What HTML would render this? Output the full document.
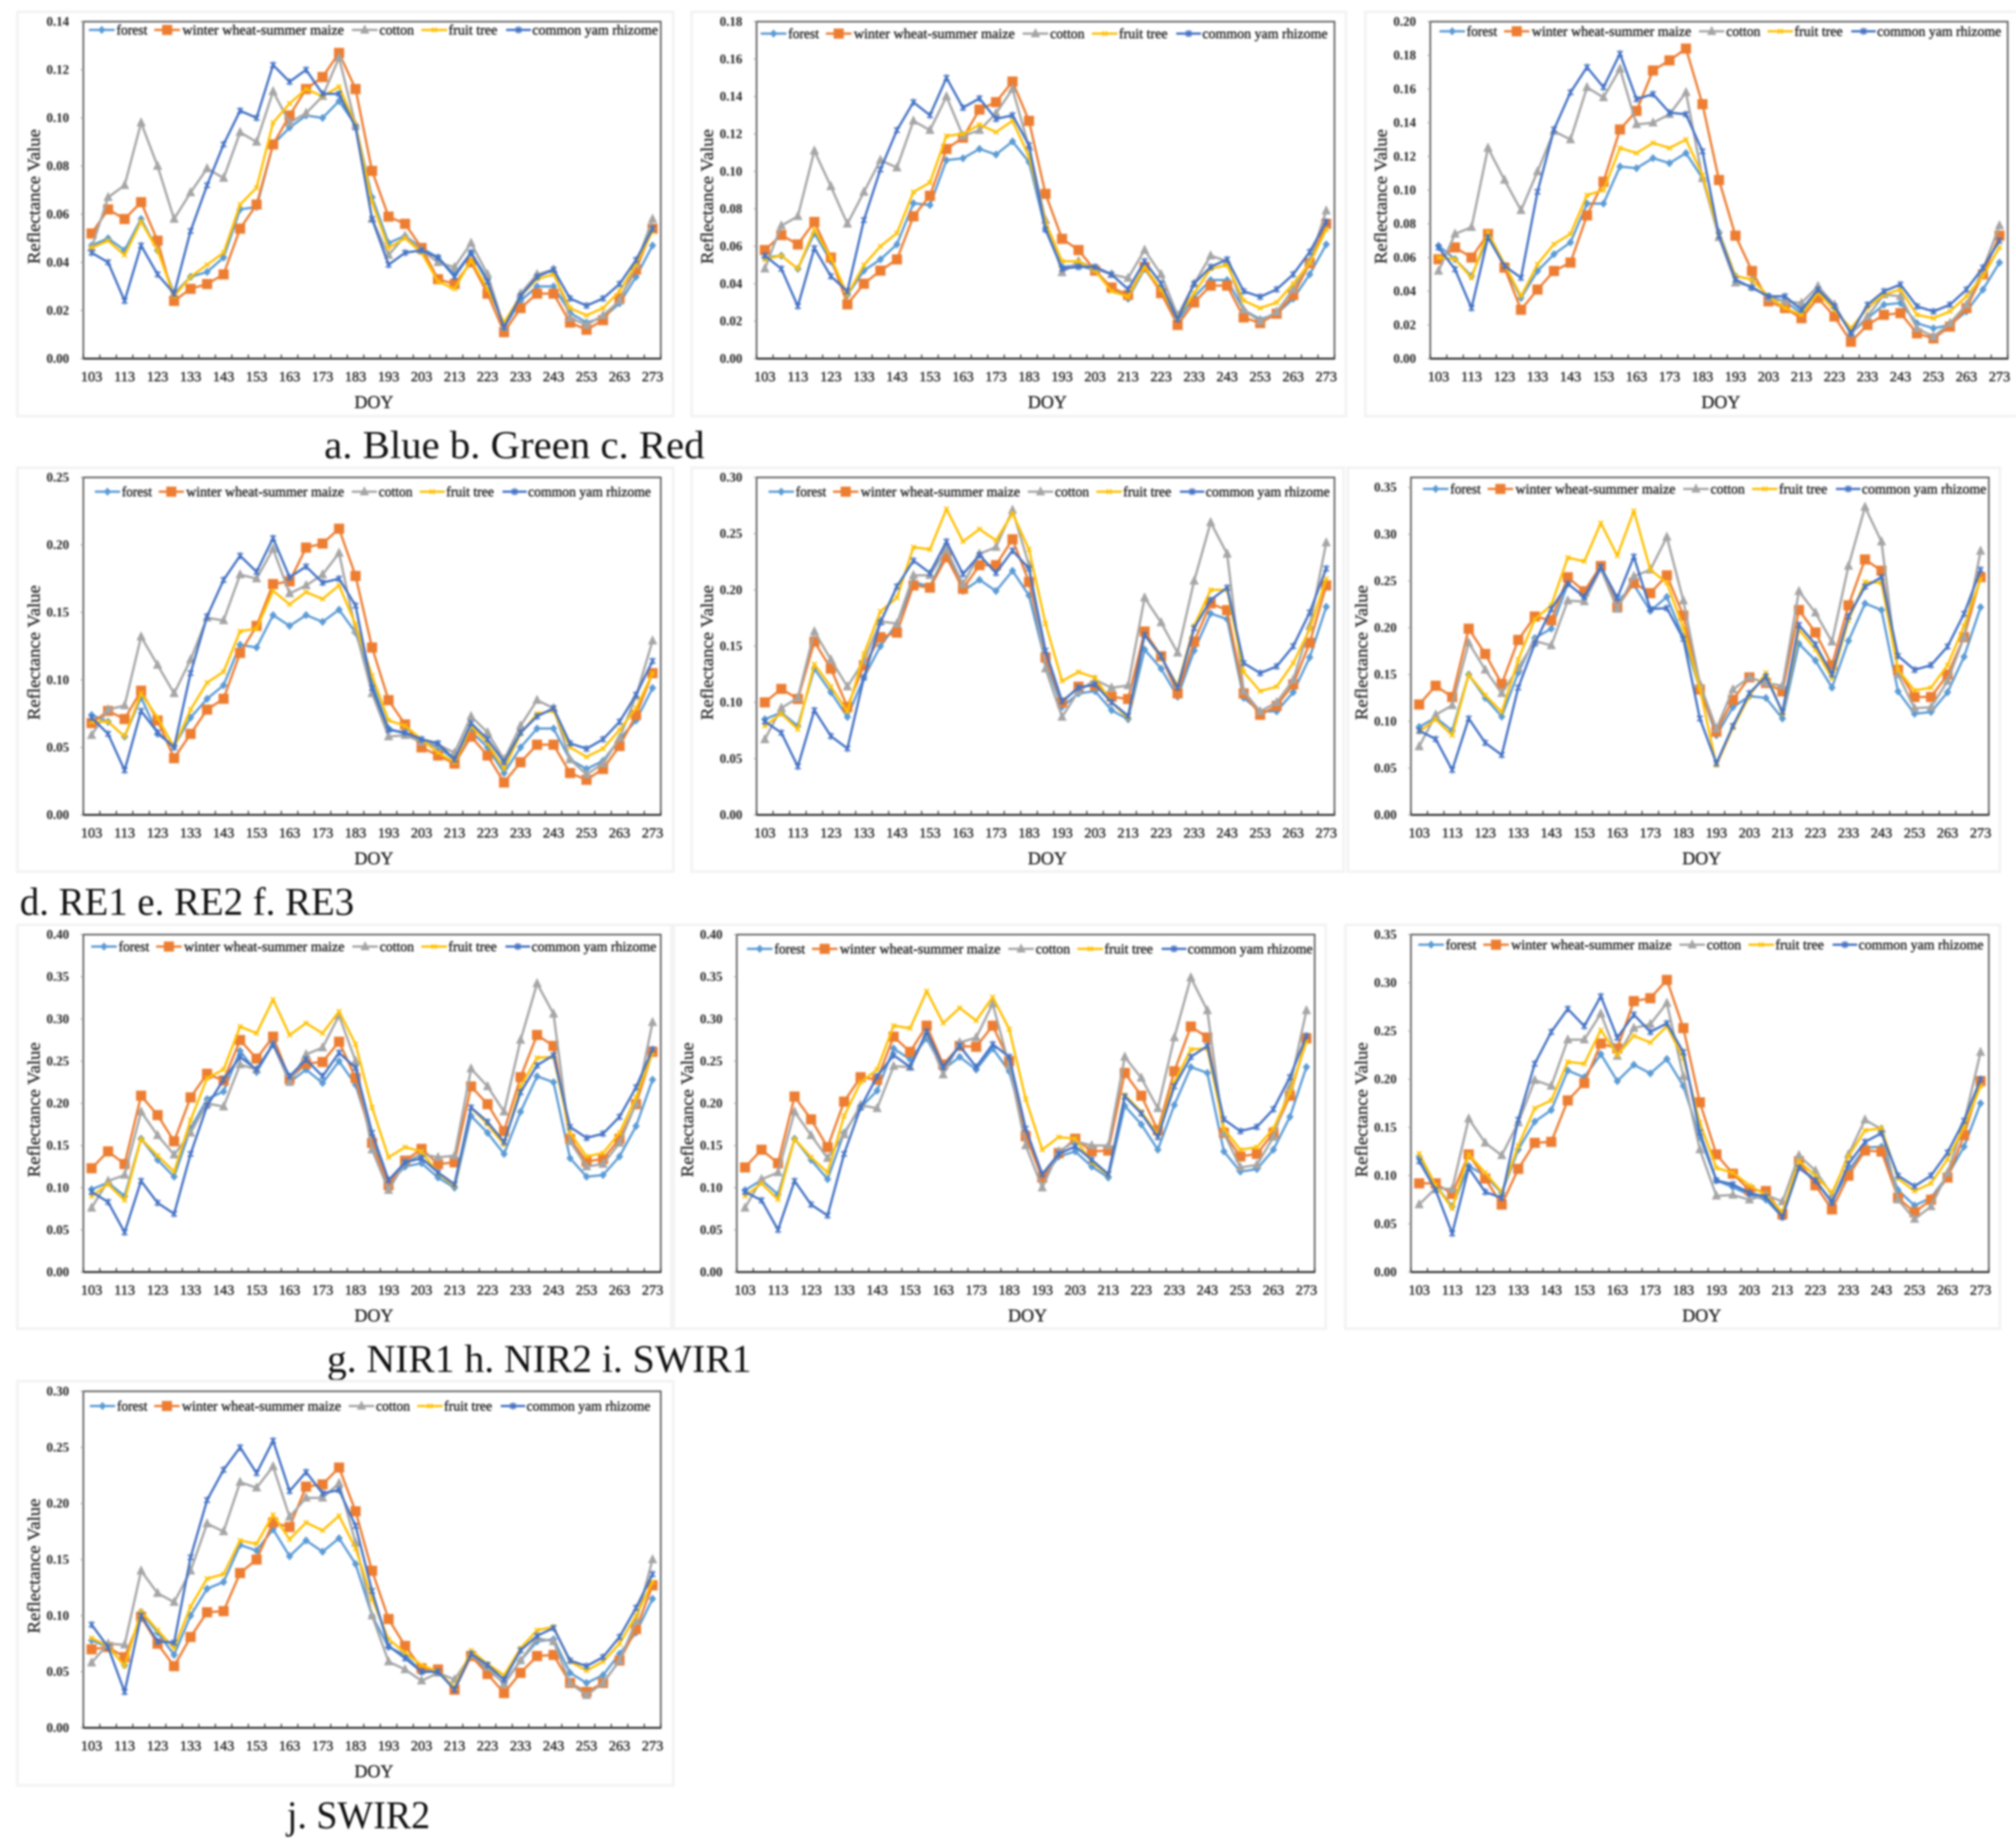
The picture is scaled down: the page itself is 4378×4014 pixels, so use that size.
<!DOCTYPE html>
<html lang="en">
<head>
<meta charset="utf-8">
<title>Reflectance Value by DOY for spectral bands</title>
<style>
html,body{margin:0;padding:0;background:#fff;width:4378px;height:4014px;overflow:hidden}
svg{display:block;filter:blur(2px)}
text{font-family:"Liberation Serif",serif;fill:#1c1c1c}
.caption{font-size:86px;fill:#111}
.tick{font-size:28px;font-weight:bold;fill:#222}
.xtick{font-size:31px;fill:#222;stroke:#222;stroke-width:.8px}
.ytitle{font-size:38px;fill:#333;stroke:#333;stroke-width:.8px}
.xtitle{font-size:39px;fill:#222;stroke:#222;stroke-width:.8px}
.legend{font-size:31px;fill:#222;stroke:#222;stroke-width:.8px}
</style>
</head>
<body>
<svg id="chart-sheet" xmlns="http://www.w3.org/2000/svg" width="4378" height="4014" viewBox="0 0 4378 4014">
<rect x="0" y="0" width="4378" height="4014" fill="#fff"/>
<rect x="1368" y="24" width="13" height="4" fill="#555"/>
<rect x="1416" y="24" width="13" height="4" fill="#555"/>
<rect x="2417" y="24" width="9" height="4" fill="#555"/>
<text class="caption" x="704" y="995" textLength="826" lengthAdjust="spacingAndGlyphs">a. Blue b. Green c. Red</text>
<text class="caption" x="43" y="1987" textLength="726" lengthAdjust="spacingAndGlyphs">d. RE1 e. RE2 f. RE3</text>
<text class="caption" x="710" y="2980" textLength="922" lengthAdjust="spacingAndGlyphs">g. NIR1 h. NIR2 i. SWIR1</text>
<text class="caption" x="623" y="3971" textLength="311" lengthAdjust="spacingAndGlyphs">j. SWIR2</text>
</svg>
<script>
// Categories
const doy = [103,108,113,118,123, 128,133,138,143,148, 153,158,163,168,173, 178,183,188,193,198, 203,208,213,218,223, 228,233,238,243,248, 253,258,263,268,273];
const seriesNames = ['forest','winter wheat-summer maize','cotton','fruit tree','common yam rhizome'];

// a. Blue
const blueForest = [.047,.050,.045,.058,.045, .027,.034,.036,.042,.062, .063,.089,.096,.101,.100, .107,.097,.067,.048,.051, .046,.042,.035,.044,.033, .013,.024,.030,.030,.019, .015,.017,.023,.034,.047];
const blueWheat = [.052,.062,.058,.065,.049, .024,.029,.031,.035,.054, .064,.089,.101,.112,.117, .127,.112,.078,.059,.056, .046,.033,.031,.040,.027, .011,.021,.027,.027,.015, .012,.016,.025,.037,.054];
const blueCotton = [.046,.067,.072,.098,.080, .058,.069,.079,.075,.094, .090,.111,.098,.102,.109, .125,.097,.058,.043,.051, .045,.040,.038,.048,.035, .013,.027,.035,.037,.017, .014,.018,.024,.039,.058];
const blueFruit = [.046,.049,.043,.057,.045, .026,.034,.039,.044,.064, .071,.098,.106,.112,.109, .113,.097,.065,.046,.050, .044,.032,.029,.041,.029, .015,.026,.033,.035,.021, .018,.021,.028,.039,.053];
const blueYam = [.044,.040,.024,.047,.035, .027,.053,.072,.089,.103, .100,.122,.115,.120,.110, .110,.096,.058,.039,.044, .045,.042,.034,.044,.032, .013,.026,.034,.037,.025, .022,.025,.031,.041,.054];

// b. Green
const greenForest = [.054,.055,.048,.067,.052, .034,.047,.053,.061,.083, .082,.106,.107,.112,.109, .116,.105,.069,.049,.050, .047,.038,.032,.048,.036, .020,.033,.042,.042,.026, .021,.024,.032,.045,.061];
const greenWheat = [.058,.066,.061,.073,.054, .029,.040,.047,.053,.076, .087,.112,.118,.133,.137, .148,.127,.088,.064,.058, .047,.038,.034,.049,.035, .018,.030,.039,.039,.022, .019,.024,.034,.051,.072];
const greenCotton = [.048,.071,.076,.111,.092, .072,.089,.106,.102,.127, .122,.140,.119,.122,.131, .144,.113,.074,.046,.052, .048,.045,.043,.058,.045, .023,.040,.055,.052,.026, .020,.025,.037,.052,.079];
const greenFruit = [.053,.055,.048,.069,.054, .034,.050,.060,.067,.089, .094,.119,.120,.125,.121, .127,.108,.073,.052,.052, .047,.036,.033,.049,.037, .022,.035,.048,.050,.031, .027,.030,.040,.051,.069];
const greenYam = [.055,.048,.028,.059,.044, .036,.074,.101,.122,.137, .130,.150,.134,.139,.128, .130,.114,.069,.048,.049, .049,.045,.037,.052,.040, .021,.040,.049,.053,.036, .033,.037,.045,.057,.073];

// c. Red
const redForest = [.067,.059,.049,.072,.055, .036,.052,.062,.069,.092, .092,.114,.113,.119,.116, .122,.107,.075,.049,.047, .037,.034,.027,.040,.031, .015,.024,.032,.033,.021, .018,.020,.028,.041,.057];
const redWheat = [.059,.066,.060,.074,.054, .029,.041,.052,.057,.085, .105,.136,.147,.171,.177, .184,.151,.106,.073,.052, .034,.030,.024,.036,.025, .010,.020,.026,.027,.015, .012,.019,.030,.050,.073];
const redCotton = [.052,.074,.078,.125,.106, .088,.111,.135,.130,.161, .155,.172,.139,.140,.145, .158,.107,.072,.045,.043, .036,.034,.033,.043,.032, .015,.025,.038,.037,.018, .013,.021,.032,.053,.079];
const redFruit = [.060,.059,.048,.075,.056, .037,.056,.068,.074,.097, .100,.125,.122,.128,.125, .130,.109,.074,.049,.047, .037,.030,.026,.039,.029, .018,.030,.038,.041,.026, .024,.028,.037,.049,.066];
const redYam = [.066,.053,.030,.072,.055, .048,.099,.136,.158,.173, .161,.181,.154,.157,.146, .145,.123,.073,.047,.042, .037,.037,.029,.041,.031, .015,.032,.040,.044,.031, .028,.032,.041,.054,.070];

// d. RE1
const re1Forest = [.074,.069,.058,.087,.060, .051,.072,.086,.096,.126, .124,.148,.140,.148,.143, .152,.135,.098,.064,.060, .055,.050,.041,.062,.050, .031,.050,.064,.064,.041, .034,.040,.056,.070,.094];
const re1Wheat = [.068,.077,.071,.092,.070, .042,.060,.078,.086,.120, .140,.171,.173,.198,.201, .212,.177,.124,.085,.067, .050,.044,.038,.058,.044, .024,.039,.052,.052,.031, .026,.034,.051,.074,.105];
const re1Cotton = [.059,.078,.081,.132,.111, .090,.115,.146,.144,.178, .175,.197,.164,.170,.178, .194,.137,.090,.058,.059, .054,.052,.046,.073,.061, .041,.066,.085,.079,.041, .030,.038,.057,.088,.129];
const re1Fruit = [.069,.069,.058,.090,.072, .050,.078,.098,.106,.136, .138,.166,.156,.165,.160, .170,.141,.103,.070,.066, .056,.046,.039,.066,.053, .034,.060,.075,.077,.050, .043,.049,.063,.079,.105];
const re1Yam = [.072,.060,.033,.077,.061, .050,.105,.147,.174,.192, .180,.205,.176,.184,.172, .175,.155,.094,.063,.061, .056,.053,.041,.068,.056, .039,.061,.073,.079,.053, .049,.056,.069,.089,.114];

// e. RE2
const re2Forest = [.085,.091,.079,.130,.109, .087,.122,.150,.170,.207, .203,.233,.199,.209,.199, .217,.195,.136,.096,.108, .110,.093,.085,.147,.130, .105,.146,.179,.174,.104, .092,.092,.109,.140,.185];
const re2Wheat = [.100,.112,.103,.154,.130, .096,.133,.158,.162,.204, .202,.229,.201,.222,.222, .245,.207,.140,.100,.114, .115,.105,.103,.163,.141, .108,.154,.188,.182,.108, .089,.097,.116,.153,.204];
const re2Cotton = [.067,.095,.104,.163,.138, .114,.137,.172,.170,.213, .213,.236,.205,.232,.238, .271,.222,.130,.087,.110, .120,.113,.115,.193,.171, .144,.208,.260,.232,.110, .092,.100,.120,.168,.242];
const re2Fruit = [.079,.090,.076,.134,.114, .092,.143,.181,.193,.238, .236,.272,.243,.254,.244, .268,.236,.170,.119,.127, .122,.100,.086,.160,.140, .115,.168,.200,.200,.127, .110,.114,.135,.165,.210];
const re2Yam = [.083,.073,.043,.093,.070, .059,.122,.171,.203,.226, .215,.243,.214,.231,.215, .235,.219,.146,.101,.113, .116,.100,.088,.160,.141, .113,.166,.191,.202,.135, .126,.132,.150,.180,.219];

// f. RE3
const re3Forest = [.094,.104,.090,.150,.125, .105,.152,.189,.199,.247, .233,.265,.228,.246,.218, .233,.190,.135,.085,.115, .127,.125,.103,.183,.165, .136,.186,.226,.219,.132, .108,.110,.131,.169,.222];
const re3Wheat = [.118,.138,.126,.199,.172, .140,.187,.212,.208,.254, .239,.266,.222,.248,.237, .256,.213,.134,.089,.123, .147,.141,.132,.219,.195, .160,.224,.273,.261,.155, .126,.126,.150,.190,.254];
const re3Cotton = [.073,.107,.117,.184,.155, .130,.157,.186,.181,.229, .228,.263,.220,.255,.262, .297,.229,.140,.092,.134, .147,.141,.138,.239,.216, .185,.266,.329,.292,.150, .114,.115,.143,.190,.282];
const re3Fruit = [.089,.102,.085,.150,.128, .110,.166,.209,.224,.275, .271,.312,.277,.325,.262, .248,.200,.135,.053,.093, .127,.152,.108,.198,.177, .146,.208,.249,.248,.155, .133,.136,.160,.202,.252];
const re3Yam = [.090,.081,.048,.103,.077, .064,.136,.183,.220,.247, .233,.265,.232,.276,.220, .221,.188,.103,.055,.095, .130,.148,.110,.203,.182, .150,.212,.244,.254,.170, .155,.160,.180,.215,.262];

// g. NIR1
const nir1Forest = [.098,.106,.090,.158,.133, .113,.170,.205,.214,.262, .237,.270,.225,.240,.224, .250,.222,.160,.105,.125, .129,.112,.100,.185,.165, .140,.190,.232,.225,.135, .113,.115,.137,.173,.228];
const nir1Wheat = [.123,.143,.128,.209,.186, .155,.207,.235,.227,.275, .253,.279,.229,.247,.249, .273,.230,.153,.103,.132, .146,.128,.130,.220,.199, .167,.231,.281,.268,.158, .131,.134,.158,.199,.261];
const nir1Cotton = [.076,.108,.115,.190,.162, .139,.165,.200,.196,.246, .240,.270,.225,.258,.266, .304,.250,.145,.097,.130, .140,.136,.138,.241,.220, .190,.275,.342,.306,.155, .125,.128,.153,.200,.296];
const nir1Fruit = [.090,.104,.085,.158,.138, .119,.180,.230,.240,.291, .283,.323,.281,.295,.283, .309,.270,.195,.136,.148, .143,.117,.102,.195,.175, .151,.220,.254,.255,.165, .137,.141,.165,.207,.260];
const nir1Yam = [.095,.083,.047,.108,.082, .069,.140,.197,.228,.255, .240,.270,.232,.252,.232, .260,.242,.165,.109,.130, .135,.118,.104,.195,.178, .154,.213,.245,.257,.172, .159,.164,.184,.219,.264];

// h. NIR2
const nir2Forest = [.097,.109,.092,.158,.133, .110,.165,.195,.215,.265, .252,.277,.240,.255,.240, .265,.238,.165,.110,.137, .143,.125,.112,.197,.175, .145,.198,.243,.236,.143, .119,.122,.145,.184,.243];
const nir2Wheat = [.124,.145,.129,.208,.181, .148,.202,.231,.228,.279, .261,.292,.246,.268,.267, .292,.250,.161,.112,.141, .158,.143,.144,.236,.209, .168,.238,.291,.278,.165, .137,.140,.165,.209,.277];
const nir2Cotton = [.076,.110,.118,.190,.162, .135,.163,.198,.194,.244, .243,.283,.234,.272,.278, .318,.245,.150,.100,.143, .155,.150,.150,.255,.230, .194,.278,.349,.310,.165, .124,.127,.160,.220,.310];
const nir2Fruit = [.090,.105,.086,.158,.136, .118,.185,.225,.240,.292, .289,.333,.295,.313,.298, .326,.288,.205,.145,.160, .158,.130,.115,.210,.190, .163,.225,.264,.265,.170, .145,.148,.170,.213,.273];
const nir2Yam = [.095,.085,.050,.108,.080, .067,.140,.195,.232,.257, .243,.285,.243,.268,.243, .270,.255,.170,.116,.140, .149,.133,.116,.208,.188, .160,.220,.255,.268,.181, .167,.172,.193,.231,.280];

// i. SWIR1
const swir1Forest = [.120,.090,.068,.110,.100, .082,.127,.156,.168,.209, .202,.226,.198,.215,.206, .221,.193,.140,.095,.088, .080,.075,.057,.110,.095, .073,.105,.129,.130,.085, .069,.077,.100,.130,.175];
const swir1Wheat = [.092,.092,.081,.122,.097, .070,.107,.134,.135,.178, .196,.237,.232,.281,.284, .303,.253,.176,.122,.102, .085,.084,.060,.115,.090, .065,.100,.126,.125,.077, .062,.075,.098,.142,.198];
const swir1Cotton = [.070,.087,.086,.159,.134, .121,.155,.199,.193,.241, .241,.268,.224,.253,.257, .279,.203,.127,.079,.080, .075,.080,.073,.121,.105, .080,.122,.158,.148,.075, .055,.068,.103,.155,.228];
const swir1Fruit = [.123,.090,.066,.122,.103, .083,.131,.170,.178,.218, .216,.251,.225,.245,.238, .255,.222,.155,.108,.103, .090,.080,.062,.115,.100, .082,.120,.147,.149,.097, .084,.092,.117,.150,.193];
const swir1Yam = [.115,.085,.040,.108,.083, .077,.158,.216,.249,.273, .255,.286,.243,.267,.249, .258,.228,.145,.095,.091, .082,.078,.057,.108,.095, .072,.112,.135,.144,.100, .089,.100,.124,.157,.200];

// j. SWIR2
const swir2Forest = [.078,.072,.056,.103,.085, .065,.100,.124,.130,.163, .158,.177,.153,.167,.157, .169,.146,.100,.072,.065, .050,.051,.034,.065,.052, .040,.060,.077,.079,.049, .040,.047,.066,.085,.115];
const swir2Wheat = [.070,.072,.063,.099,.075, .055,.081,.103,.104,.138, .150,.183,.179,.215,.217, .232,.193,.140,.097,.073, .053,.052,.034,.064,.048, .031,.049,.064,.065,.040, .032,.040,.060,.088,.127];
const swir2Cotton = [.058,.075,.074,.140,.120, .112,.140,.182,.175,.219, .214,.233,.188,.205,.205, .218,.165,.100,.059,.052, .042,.049,.043,.065,.054, .039,.060,.080,.077,.040, .029,.040,.060,.095,.150];
const swir2Fruit = [.080,.073,.055,.104,.087, .071,.108,.133,.137,.167, .164,.190,.168,.183,.176, .189,.160,.115,.079,.067, .056,.050,.036,.069,.057, .047,.071,.087,.090,.059, .051,.059,.075,.100,.130];
const swir2Yam = [.092,.072,.032,.100,.077, .076,.152,.203,.230,.250, .227,.256,.211,.228,.209, .212,.180,.122,.073,.062, .050,.050,.034,.066,.056, .043,.069,.082,.089,.060, .055,.063,.081,.107,.137];

// Axis ranges
const yTickLabelsA = ['0.00','0.02','0.04','0.06','0.08','0.10','0.12','0.14'];
const yTickLabelsB = ['0.00','0.02','0.04','0.06','0.08','0.10','0.12','0.14','0.16','0.18'];
const yTickLabelsC = ['0.00','0.02','0.04','0.06','0.08','0.10','0.12','0.14','0.16','0.18','0.20'];
const yTickLabelsD = ['0.00','0.05','0.10','0.15','0.20','0.25'];
const yTickLabelsE = ['0.00','0.05','0.10','0.15','0.20','0.25','0.30'];
const yTickLabelsF = ['0.00','0.05','0.10','0.15','0.20','0.25','0.30','0.35'];
const yTickLabelsG = ['0.00','0.05','0.10','0.15','0.20','0.25','0.30','0.35','0.40'];

const SVG_NS = 'http://www.w3.org/2000/svg';
const sheet = document.getElementById('chart-sheet');
const colors = ['#5B9BD5','#ED7D31','#A5A5A5','#FFC000','#4472C4'];

function make(tag, attrs, parent) {
  const el = document.createElementNS(SVG_NS, tag);
  for (const k in attrs) el.setAttribute(k, attrs[k]);
  parent.appendChild(el);
  return el;
}

function drawMarker(kind, cx, cy, parent) {
  const c = colors[kind];
  let m;
  if (kind === 0) {
    m = make('polygon', {points: [cx,cy-9,cx+8,cy,cx,cy+9,cx-8,cy].join(','), fill: c}, parent);
  } else if (kind === 1) {
    m = make('rect', {x: cx-11, y: cy-11, width: 22, height: 22, fill: c}, parent);
  } else if (kind === 2) {
    m = make('polygon', {points: [cx,cy-12,cx+10,cy+8,cx-10,cy+8].join(','), fill: c}, parent);
  } else if (kind === 3) {
    m = make('path', {d: 'M'+(cx-5)+' '+(cy-5)+'L'+(cx+5)+' '+(cy+5)+'M'+(cx+5)+' '+(cy-5)+'L'+(cx-5)+' '+(cy+5), stroke: c, 'stroke-width': 3, fill: 'none'}, parent);
  } else {
    m = make('path', {d: 'M'+(cx-6)+' '+(cy-6)+'L'+(cx+6)+' '+(cy+6)+'M'+(cx+6)+' '+(cy-6)+'L'+(cx-6)+' '+(cy+6)+'M'+cx+' '+(cy-8)+'V'+(cy+8), stroke: c, 'stroke-width': 3, fill: 'none'}, parent);
  }
  
  
}

const legendLineStart = [0,142,571,722,906];
const legendLineEnd = [56,198,627,778,960];
const legendTextStart = [60,203,631,781,963];
const legendTextWidth = [67,351,75,106,273];

function drawPanel(p) {
  const g = make('g', {}, sheet);
  
  

  const frame = make('rect', {x: p.fx0, y: p.fy0, width: p.fx1-p.fx0, height: p.fy1-p.fy0, fill: '#fff', stroke: '#f3f3f3', 'stroke-width': 6}, g);
  
  

  const plot = make('rect', {x: p.x0, y: p.y0, width: p.x1-p.x0, height: p.y1-p.y0, fill: '#fff', stroke: '#5a5a5a', 'stroke-width': 3.5}, g);
  
  

  const band = (p.x1 - p.x0) / doy.length;
  const xScale = i => p.x0 + band * (i + 0.5);
  const yScale = v => p.y1 - v / p.yMax * (p.y1 - p.y0);

  const xAxis = make('line', {x1: p.x0, x2: p.x1, y1: p.y1, y2: p.y1, stroke: '#222', 'stroke-width': 4}, g);
  
  

  for (let i = 0; i <= doy.length; i++) {
    const tx = p.x0 + band * i;
    const t = make('line', {x1: tx, x2: tx, y1: p.y1 - 9, y2: p.y1 + 2, stroke: '#333', 'stroke-width': 2.5}, g);
    
    
  }

  doy.forEach((d, i) => {
    if (i % 2) return;
    const lab = make('text', {x: xScale(i), y: p.y1 + 49, 'text-anchor': 'middle', class: 'xtick'}, g);
    lab.textContent = d;
    
    
  });

  p.yTicks.forEach(label => {
    const ty = yScale(parseFloat(label));
    const t = make('line', {x1: p.x0 - 6, x2: p.x0, y1: ty, y2: ty, stroke: '#999', 'stroke-width': 2}, g);
    
    
    const lab = make('text', {x: p.x0 - 31, y: ty + 9, 'text-anchor': 'end', class: 'tick'}, g);
    lab.textContent = label;
    
    
  });

  const yCenter = (p.y0 + p.y1) / 2 + 14;
  const yt = make('text', {x: 0, y: 0, transform: 'translate(' + (p.x0 - 95) + ',' + yCenter + ') rotate(-90)', 'text-anchor': 'middle', class: 'ytitle', textLength: 293, lengthAdjust: 'spacingAndGlyphs'}, g);
  yt.textContent = 'Reflectance Value';
  
  

  const xt = make('text', {x: (p.x0 + p.x1) / 2 + 4, y: p.y1 + 107, 'text-anchor': 'middle', class: 'xtitle'}, g);
  xt.textContent = 'DOY';
  
  

  p.series.forEach((values, s) => {
    const sg = make('g', {}, g);
    
    
    const pts = values.map((v, i) => xScale(i).toFixed(1) + ',' + yScale(v).toFixed(1)).join(' ');
    const line = make('polyline', {points: pts, fill: 'none', stroke: colors[s], 'stroke-width': 5, 'stroke-linejoin': 'round'}, sg);
    
    
    values.forEach((v, i) => drawMarker(s, xScale(i), yScale(v), sg));
  });

  const lg = make('g', {}, g);
  
  
  seriesNames.forEach((name, s) => {
    const entry = make('g', {}, lg);
    
    
    const ax = p.lx + legendLineStart[s] * p.ls;
    const bx = p.lx + legendLineEnd[s] * p.ls;
    const swatch = make('line', {x1: ax, x2: bx, y1: p.ly, y2: p.ly, stroke: colors[s], 'stroke-width': 5}, entry);
    
    
    drawMarker(s, (ax + bx) / 2, p.ly, entry);
    const label = make('text', {x: p.lx + legendTextStart[s] * p.ls, y: p.ly + 10, class: 'legend', textLength: legendTextWidth[s] * p.ls, lengthAdjust: 'spacingAndGlyphs'}, entry);
    label.textContent = name;
    
    
  });
}

const panels = [
  {id:'a-blue', fx0:38, fx1:1462, fy0:26, fy1:904, x0:181, x1:1435, y0:47, y1:779, yMax:.14, yTicks:yTickLabelsA, lx:193, ly:65, ls:1, series:[blueForest,blueWheat,blueCotton,blueFruit,blueYam]},
  {id:'b-green', fx0:1502, fx1:2923, fy0:26, fy1:904, x0:1643, x1:2898, y0:47, y1:779, yMax:.18, yTicks:yTickLabelsB, lx:1652, ly:73, ls:.996, series:[greenForest,greenWheat,greenCotton,greenFruit,greenYam]},
  {id:'c-red', fx0:2965, fx1:4390, fy0:26, fy1:904, x0:3106, x1:4360, y0:47, y1:779, yMax:.20, yTicks:yTickLabelsC, lx:3126, ly:68, ls:.987, series:[redForest,redWheat,redCotton,redFruit,redYam]},
  {id:'d-re1', fx0:38, fx1:1462, fy0:1016, fy1:1893, x0:181, x1:1435, y0:1037, y1:1770, yMax:.25, yTicks:yTickLabelsD, lx:206, ly:1068, ls:.977, series:[re1Forest,re1Wheat,re1Cotton,re1Fruit,re1Yam]},
  {id:'e-re2', fx0:1502, fx1:2918, fy0:1016, fy1:1893, x0:1643, x1:2898, y0:1037, y1:1770, yMax:.30, yTicks:yTickLabelsE, lx:1669, ly:1068, ls:.986, series:[re2Forest,re2Wheat,re2Cotton,re2Fruit,re2Yam]},
  {id:'f-re3', fx0:2927, fx1:4343, fy0:1016, fy1:1893, x0:3064, x1:4319, y0:1037, y1:1770, yMax:.3607, yTicks:yTickLabelsF, lx:3090, ly:1062, ls:.99, series:[re3Forest,re3Wheat,re3Cotton,re3Fruit,re3Yam]},
  {id:'g-nir1', fx0:38, fx1:1458, fy0:2009, fy1:2886, x0:181, x1:1435, y0:2030, y1:2763, yMax:.40, yTicks:yTickLabelsG, lx:198, ly:2056, ls:.993, series:[nir1Forest,nir1Wheat,nir1Cotton,nir1Fruit,nir1Yam]},
  {id:'h-nir2', fx0:1463, fx1:2879, fy0:2009, fy1:2886, x0:1600, x1:2855, y0:2030, y1:2763, yMax:.40, yTicks:yTickLabelsG, lx:1622, ly:2061, ls:.994, series:[nir2Forest,nir2Wheat,nir2Cotton,nir2Fruit,nir2Yam]},
  {id:'i-swir1', fx0:2922, fx1:4343, fy0:2009, fy1:2886, x0:3064, x1:4319, y0:2030, y1:2763, yMax:.35, yTicks:yTickLabelsF, lx:3080, ly:2052, ls:.993, series:[swir1Forest,swir1Wheat,swir1Cotton,swir1Fruit,swir1Yam]},
  {id:'j-swir2', fx0:38, fx1:1462, fy0:3000, fy1:3878, x0:181, x1:1435, y0:3022, y1:3753, yMax:.30, yTicks:yTickLabelsE, lx:195, ly:3054, ls:.985, series:[swir2Forest,swir2Wheat,swir2Cotton,swir2Fruit,swir2Yam]}
];

panels.forEach(drawPanel);
</script>
</body>
</html>
